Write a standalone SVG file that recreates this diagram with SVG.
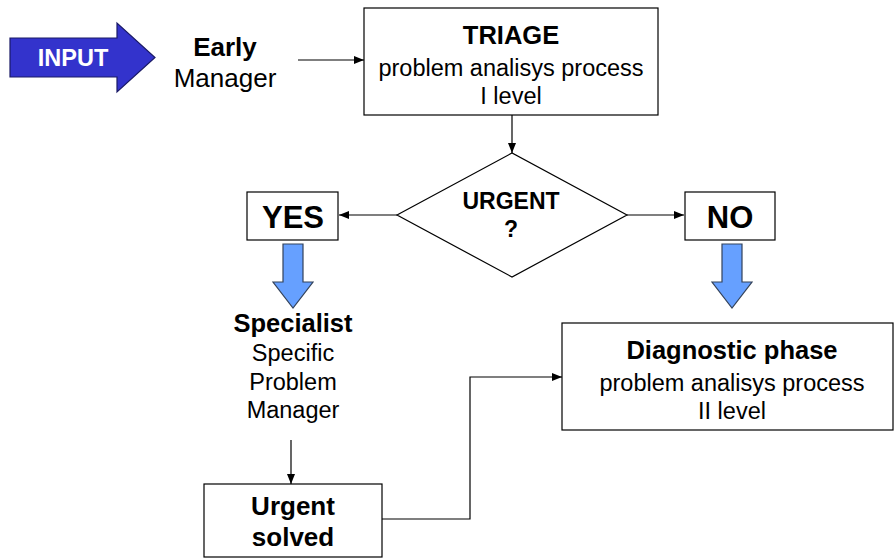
<svg xmlns="http://www.w3.org/2000/svg" width="894" height="558" viewBox="0 0 894 558">
  <style>
    text { font-family: "Liberation Sans", Arial, sans-serif; fill: #000; text-anchor: middle; }
    .b { font-weight: bold; }
    .t { font-size: 25.5px; font-weight: bold; }
    .s { font-size: 23.5px; }
    .box { fill: #fff; stroke: #000; stroke-width: 1.2; }
    .conn { fill: none; stroke: #000; stroke-width: 1.2; }
    .blk { fill: #66a0ff; stroke: #33425a; stroke-width: 1.2; }
  </style>
  <defs>
    <marker id="ah" markerWidth="10" markerHeight="8" refX="10" refY="4" orient="auto" markerUnits="userSpaceOnUse">
      <path d="M0,0 L10,4 L0,8 Z" fill="#000"/>
    </marker>
  </defs>

  <rect width="894" height="558" fill="#fff"/>

  <!-- connectors -->
  <g id="connectors">
    <line class="conn" x1="298" y1="60" x2="364" y2="60" marker-end="url(#ah)"/>
    <line class="conn" x1="512" y1="115" x2="512" y2="153" marker-end="url(#ah)"/>
    <line class="conn" x1="397" y1="215" x2="339" y2="215" marker-end="url(#ah)"/>
    <line class="conn" x1="627" y1="215" x2="684" y2="215" marker-end="url(#ah)"/>
    <line class="conn" x1="291" y1="440" x2="291" y2="484" marker-end="url(#ah)"/>
    <polyline class="conn" points="382,519 470,519 470,377 562,377" stroke="#333" marker-end="url(#ah)"/>
  </g>

  <!-- input arrow -->
  <g id="input">
    <polygon points="10,38 117,38 117,23 155,57.5 117,92 117,77 10,77" fill="#3333cc" stroke="#1a1a66" stroke-width="1.2"/>
    <text x="73" y="66" class="b" style="font-size:23.5px; fill:#fff">INPUT</text>
  </g>

  <g id="early-manager">
    <text x="225" y="56" class="b" style="font-size:26px">Early</text>
    <text x="225" y="87" style="font-size:26px">Manager</text>
  </g>

  <g id="triage">
    <rect class="box" x="364" y="8" width="294" height="107"/>
    <text x="511" y="44" class="t">TRIAGE</text>
    <text x="511" y="76" class="s">problem analisys process</text>
    <text x="511" y="104" class="s">I level</text>
  </g>

  <g id="urgent-decision">
    <polygon class="box" points="397,215 512,153 627,215 512,277"/>
    <text x="511" y="209" class="b" style="font-size:23px">URGENT</text>
    <text x="511" y="237" class="b" style="font-size:23px">?</text>
  </g>

  <g id="yes">
    <rect class="box" x="247" y="192" width="91" height="48"/>
    <text x="293" y="228" class="b" style="font-size:31px">YES</text>
    <polygon class="blk" points="283,244 303,244 303,282 313,282 293,308 273,282 283,282"/>
  </g>

  <g id="no">
    <rect class="box" x="685" y="192" width="90" height="48"/>
    <text x="730" y="228" class="b" style="font-size:31px">NO</text>
    <polygon class="blk" points="722,244 742,244 742,282 752,282 732,308 712,282 722,282"/>
  </g>

  <g id="specialist">
    <text x="293" y="332" class="t">Specialist</text>
    <text x="293" y="361" class="s">Specific</text>
    <text x="293" y="390" class="s">Problem</text>
    <text x="293" y="418" class="s">Manager</text>
  </g>

  <g id="urgent-solved">
    <rect class="box" x="204" y="484" width="178" height="73"/>
    <text x="293" y="515" class="b" style="font-size:26px">Urgent</text>
    <text x="293" y="546" class="b" style="font-size:26px">solved</text>
  </g>

  <g id="diagnostic">
    <rect class="box" x="562" y="323" width="331" height="107"/>
    <text x="732" y="359" class="t">Diagnostic phase</text>
    <text x="732" y="391" class="s">problem analisys process</text>
    <text x="732" y="419" class="s">II level</text>
  </g>
</svg>
